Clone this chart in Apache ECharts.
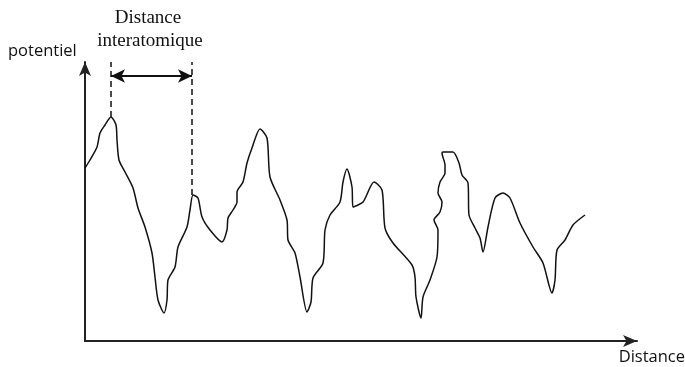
<!DOCTYPE html>
<html>
<head>
<meta charset="utf-8">
<script src="https://cdn.jsdelivr.net/npm/echarts@6/dist/echarts.min.js"></script>
<style>
  html, body { margin: 0; padding: 0; background: #fff; }
  #chart1 { width: 685px; height: 367px; }
</style>
</head>
<body>
<div id="chart1"></div>
<script>
// distance (x) and potential (y)
var distX = [0, 5, 12, 15, 20, 26, 31, 32, 34, 40, 48, 53, 60, 67, 70, 73, 79, 82, 83, 90, 93, 102, 105, 108,
  113, 117, 125, 137, 142, 143, 148, 152, 152, 158, 162, 167, 175, 182, 185, 195, 202, 203, 210, 215, 222,
  226, 228, 238, 240, 245, 255, 258, 262, 267, 268, 278, 289, 297, 300, 308, 327, 330, 331, 336, 338, 345,
  352, 353, 349, 355, 357, 353, 355, 360, 360, 357, 358, 368, 374, 377, 383, 384, 390, 395, 398, 403, 410,
  418, 425, 435, 448, 458, 467, 470, 472, 480, 488, 500];
var potY = [173, 181, 194, 208, 216, 224, 216, 201, 181, 169, 153, 133, 114, 88, 64, 41, 28, 41, 61, 74, 94, 114, 131, 146,
  143, 124, 111, 99, 111, 123, 131, 139, 149, 159, 178, 193, 212, 203, 164, 141, 121, 101, 88, 64, 29,
  39, 63, 78, 111, 126, 139, 159, 172, 154, 134, 139, 159, 151, 113, 98, 76, 64, 44, 23, 44, 61,
  84, 111, 121, 129, 139, 148, 159, 168, 176, 188, 189, 189, 178, 166, 158, 126, 113, 103, 89, 114, 143,
  148, 143, 118, 94, 78, 48, 61, 91, 101, 116, 126];

// the two neighbouring peaks marked as "Distance interatomique"
var peakA = [26, 224];
var peakB = [107, 146];
var arrowY = 265;
var topY = 279;

var curve = distX.map(function (x, i) { return [x, potY[i]]; });

var chartDom = document.getElementById("chart1");
var myChart = echarts.init(chartDom);
var option;

option = {
  animation: false,
  grid: { left: 85, right: 48, top: 62, bottom: 26 },
  xAxis: {
    type: "value",
    min: 0,
    max: 552,
    splitLine: { show: false },
    axisTick: { show: false },
    axisLabel: { show: false },
    axisLine: {
      lineStyle: { color: "#222", width: 2 },
      symbol: ["none", "arrow"],
      symbolSize: [9, 14],
    },
  },
  yAxis: {
    type: "value",
    min: 0,
    max: 279,
    splitLine: { show: false },
    axisTick: { show: false },
    axisLabel: { show: false },
    axisLine: {
      lineStyle: { color: "#222", width: 2 },
      symbol: ["none", "arrow"],
      symbolSize: [9, 14],
    },
  },
  graphic: [
    { type: "text", x: 8, y: 43, style: { text: "potentiel", font: "16.5px 'Open Sans'", fill: "#111" } },
    { type: "text", x: 685, y: 349, style: { text: "Distance", font: "16.5px 'Open Sans'", fill: "#111", align: "right" } },
    { type: "text", x: 148, y: 9, style: { text: "Distance", font: "19px 'Liberation Serif'", fill: "#111", align: "center" } },
    { type: "text", x: 150, y: 32, style: { text: "interatomique", font: "19px 'Liberation Serif'", fill: "#111", align: "center" } },
  ],
  series: [
    {
      type: "line",
      data: curve,
      smooth: 0.25,
      clip: false,
      showSymbol: false,
      lineStyle: { color: "#111", width: 1.5 },
      markLine: {
        silent: true,
        symbol: ["none", "none"],
        label: { show: false },
        lineStyle: { color: "#111", type: [6, 4], width: 1.5 },
        data: [
          [{ coord: [peakA[0], peakA[1]] }, { coord: [peakA[0], topY] }],
          [{ coord: [peakB[0], peakB[1]] }, { coord: [peakB[0], topY] }],
          [
            { coord: [peakA[0], arrowY], symbol: "arrow", symbolSize: [10, 14], lineStyle: { type: "solid", width: 2 } },
            { coord: [peakB[0], arrowY], symbol: "arrow", symbolSize: [10, 14] },
          ],
        ],
      },
    },
  ],
};
option && myChart.setOption(option);
</script>
</body>
</html>
